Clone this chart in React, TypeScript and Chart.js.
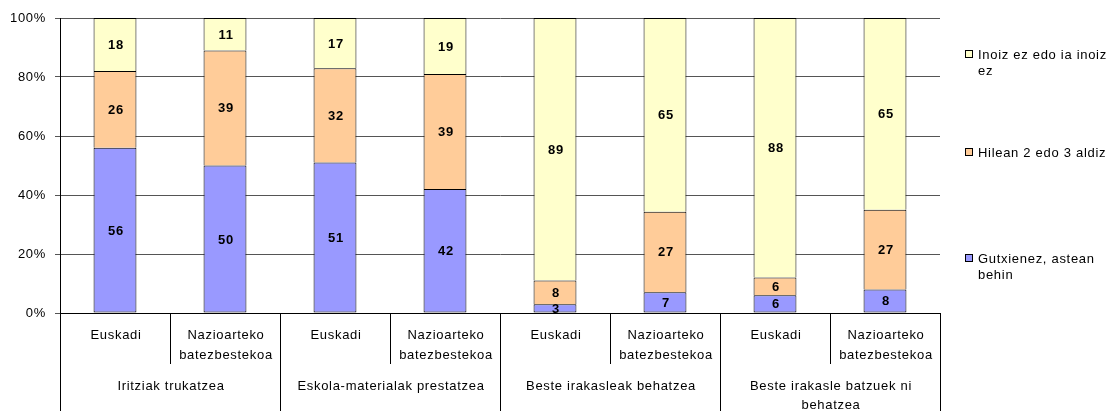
import React, { useEffect, useRef } from "react";
import { Chart, registerables } from "chart.js";

Chart.register(...registerables);

const subLabels: string[][] = [
  ["Euskadi"], ["Nazioarteko", "batezbestekoa"],
  ["Euskadi"], ["Nazioarteko", "batezbestekoa"],
  ["Euskadi"], ["Nazioarteko", "batezbestekoa"],
  ["Euskadi"], ["Nazioarteko", "batezbestekoa"],
];
const groupLabels: string[][] = [
  ["Iritziak trukatzea"],
  ["Eskola-materialak prestatzea"],
  ["Beste irakasleak behatzea"],
  ["Beste irakasle batzuek ni", "behatzea"],
];
const gutxienez = [56, 50, 51, 42, 3, 7, 6, 8];
const hilean = [26, 39, 32, 39, 8, 27, 6, 27];
const inoiz = [18, 11, 17, 19, 89, 65, 88, 65];

const seriesNames = ["Gutxienez, astean behin", "Hilean 2 edo 3 aldiz", "Inoiz ez edo ia inoiz ez"];
const legendLines: string[][] = [["Gutxienez, astean", "behin"], ["Hilean 2 edo 3 aldiz"], ["Inoiz ez edo ia inoiz", "ez"]];
const colors = ["#9999FF", "#FFCC99", "#FFFFCC"];
const yTicks = [0, 20, 40, 60, 80, 100];

const FONT = "Arial, 'Liberation Sans', sans-serif";
const SPACING = "0.7px";

export default function App() {
  const ref = useRef<HTMLCanvasElement>(null);
  useEffect(() => {
    document.body.style.margin = "0";
    const raw = [gutxienez, hilean, inoiz];
    const totals = gutxienez.map((_, i) => gutxienez[i] + hilean[i] + inoiz[i]);
    const pct = raw.map((arr) => arr.map((v, i) => (v / totals[i]) * 100));

    const labelsPlugin = {
      id: "labelsPlugin",
      beforeDraw(chart: any) {
        (chart.ctx as any).letterSpacing = SPACING;
      },
      afterDatasetsDraw(chart: any) {
        const ctx = chart.ctx;
        ctx.save();
        ctx.letterSpacing = SPACING;
        ctx.font = `bold 13px ${FONT}`;
        ctx.fillStyle = "#000";
        ctx.textAlign = "center";
        ctx.textBaseline = "alphabetic";
        chart.data.datasets.forEach((ds: any, di: number) => {
          const meta = chart.getDatasetMeta(di);
          meta.data.forEach((el: any, i: number) => {
            const y = (el.y + el.base) / 2;
            ctx.fillText(String(raw[di][i]), el.x + 1, y + 4.5);
          });
        });
        ctx.restore();
      },
      afterDraw(chart: any) {
        const ctx = chart.ctx;
        const area = chart.chartArea;
        const xs = chart.scales.x;
        const H = chart.height;
        ctx.save();
        ctx.letterSpacing = SPACING;
        ctx.strokeStyle = "#000";
        ctx.lineWidth = 1;
        const n = subLabels.length;
        const step = (area.right - area.left) / n;
        for (let i = 0; i <= n; i++) {
          const x = Math.round(area.left + i * step) + 0.5;
          const full = i % 2 === 0;
          ctx.beginPath();
          ctx.moveTo(x, area.bottom);
          ctx.lineTo(x, full ? H : area.bottom + 51);
          ctx.stroke();
        }
        ctx.font = `13px ${FONT}`;
        ctx.fillStyle = "#000";
        ctx.textAlign = "center";
        ctx.textBaseline = "alphabetic";
        subLabels.forEach((lines, i) => {
          const cx = xs.getPixelForValue(i) + 1;
          lines.forEach((t, k) => ctx.fillText(t, cx, area.bottom + 26 + k * 20));
        });
        groupLabels.forEach((lines, g) => {
          const cx = area.left + (g * 2 + 1) * step + 1;
          lines.forEach((t, k) => ctx.fillText(t, cx, area.bottom + 77 + k * 19));
        });
        // legend
        const lx = 965;
        const baselines = [263, 157, 59];
        for (let s = 2; s >= 0; s--) {
          ctx.fillStyle = colors[s];
          ctx.fillRect(lx, baselines[s] - 9, 8, 8);
          ctx.strokeStyle = "#000";
          ctx.strokeRect(lx + 0.5, baselines[s] - 9 + 0.5, 7, 7);
          ctx.fillStyle = "#000";
          ctx.textAlign = "left";
          legendLines[s].forEach((t, k) => ctx.fillText(t, lx + 13, baselines[s] + k * 16));
        }
        ctx.restore();
      },
    };

    const chart = new Chart(ref.current!, {
      type: "bar",
      data: {
        labels: subLabels.map((l) => l.join(" ")),
        datasets: pct.map((d, i) => ({
          label: seriesNames[i],
          data: d,
          backgroundColor: colors[i],
          borderColor: "#000",
          borderWidth: 1,
          borderSkipped: i === 0 ? false : "start",
          barPercentage: 0.39,
          categoryPercentage: 1,
        })),
      },
      options: {
        animation: false,
        responsive: false,
        layout: { padding: { top: 18, right: 172, bottom: 0, left: 0 } },
        plugins: { legend: { display: false }, tooltip: { enabled: false } },
        scales: {
          x: {
            stacked: true,
            ticks: { display: false },
            grid: { display: false },
            border: { display: true, color: "#000" },
            afterFit: (s: any) => { s.height = 98; },
          },
          y: {
            stacked: true,
            min: 0,
            max: 100,
            afterBuildTicks: (s: any) => { s.ticks = yTicks.map((v) => ({ value: v })); },
            ticks: {
              callback: (v: any) => v + "%",
              font: { family: FONT, size: 13 },
              color: "#000",
              padding: 9,
            },
            grid: { color: "#555", tickLength: 5, drawTicks: true },
            border: { display: true, color: "#000" },
            afterFit: (s: any) => { s.width = 60; },
          },
        },
      },
      plugins: [labelsPlugin],
    });
    return () => chart.destroy();
  }, []);
  return <canvas ref={ref} width={1112} height={411} />;
}
